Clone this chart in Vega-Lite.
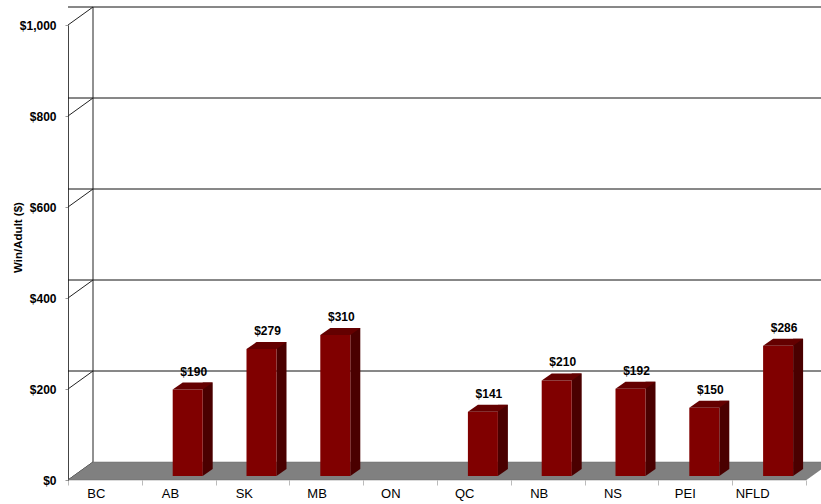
{
  "$schema": "https://vega.github.io/schema/vega-lite/v6.json",
  "width": 738,
  "height": 455,
  "autosize": {"type": "none"},
  "padding": {"left": 68, "top": 25, "right": 15, "bottom": 24},
  "background": "white",
  "config": {
    "view": {"stroke": null},
    "font": "Liberation Sans",
    "axisY": {"grid": false},
    "axisX": {"grid": false}
  },
  "datasets": {
    "prov": [
      {"prov": "BC", "value": null},
      {"prov": "AB", "value": 190},
      {"prov": "SK", "value": 279},
      {"prov": "MB", "value": 310},
      {"prov": "ON", "value": null},
      {"prov": "QC", "value": 141},
      {"prov": "NB", "value": 210},
      {"prov": "NS", "value": 192},
      {"prov": "PEI", "value": 150},
      {"prov": "NFLD", "value": 286}
    ],
    "grid": [{"v": 0}, {"v": 200}, {"v": 400}, {"v": 600}, {"v": 800}, {"v": 1000}],
    "one": [{"k": 1}]
  },
  "layer": [
    {
      "data": {"name": "grid"},
      "transform": [{"filter": "datum.v > 0"}],
      "mark": {"type": "rule", "xOffset": 25, "yOffset": -18, "color": "#111", "strokeWidth": 1},
      "encoding": {
        "y": {
          "field": "v", "type": "quantitative",
          "scale": {"domain": [0, 1000], "nice": false},
          "axis": {
            "title": "Win/Adult ($)", "format": "$,.0f", "values": [0, 200, 400, 600, 800, 1000],
            "grid": false, "ticks": true, "tickSize": 3, "tickColor": "#999",
            "domainColor": "#444", "labelFontSize": 12, "labelFontWeight": "bold", "labelColor": "#000",
            "labelPadding": 9, "titleFontSize": 11.5, "titleFontWeight": "bold", "titleColor": "#000",
            "titleX": -50, "titleY": 212, "titleBaseline": "middle", "titleAngle": 270, "titleAlign": "center"
          }
        }
      }
    },
    {
      "data": {"name": "grid"},
      "mark": {"type": "rule", "x2Offset": 25, "y2Offset": -18, "color": "#222", "strokeWidth": 1},
      "encoding": {
        "x": {"datum": "BC", "type": "nominal", "bandPosition": 0},
        "x2": {"datum": "BC", "bandPosition": 0},
        "y": {"field": "v", "type": "quantitative"},
        "y2": {"field": "v"}
      }
    },
    {
      "data": {"name": "one"},
      "mark": {"type": "rule", "xOffset": 25, "yOffset": -18, "y2Offset": -18, "color": "#222", "strokeWidth": 1},
      "encoding": {
        "x": {"datum": "BC", "type": "nominal", "bandPosition": 0},
        "y": {"datum": 0, "type": "quantitative"},
        "y2": {"datum": 1000}
      }
    },
    {
      "data": {"name": "one"},
      "mark": {"type": "point", "shape": "M 0 0 L 738 0 L 763 -18 L 25 -18 Z", "size": 4, "filled": true, "opacity": 1, "fill": "#808080", "stroke": "#6a6a6a", "strokeWidth": 0.5},
      "encoding": {
        "x": {"datum": "BC", "type": "nominal", "bandPosition": 0},
        "y": {"datum": 0, "type": "quantitative"}
      }
    },
    {
      "data": {"name": "prov"},
      "transform": [{"filter": "isValid(datum.value)"}],
      "mark": {"type": "bar", "width": 10, "xOffset": 29, "yOffset": -11, "y2Offset": -11, "color": "#4a0000"},
      "encoding": {
        "x": {"field": "prov", "type": "nominal", "sort": null},
        "y": {"field": "value", "type": "quantitative"},
        "y2": {"datum": 0}
      }
    },
    {
      "data": {"name": "prov"},
      "transform": [{"filter": "isValid(datum.value)"}],
      "mark": {"type": "point", "shape": "M 24 -4 L 34 -11 L 24 -11 Z", "size": 4, "filled": true, "opacity": 1, "fill": "#4a0000", "strokeWidth": 0},
      "encoding": {
        "x": {"field": "prov", "type": "nominal", "sort": null},
        "y": {"datum": 0, "type": "quantitative"}
      }
    },
    {
      "data": {"name": "prov"},
      "transform": [{"filter": "isValid(datum.value)"}],
      "mark": {"type": "bar", "width": 30, "xOffset": 9, "yOffset": -4, "y2Offset": -4, "color": "#800000"},
      "encoding": {
        "x": {
          "field": "prov", "type": "nominal", "sort": null,
          "scale": {"domain": ["BC", "AB", "SK", "MB", "ON", "QC", "NB", "NS", "PEI", "NFLD"], "paddingInner": 0, "paddingOuter": 0},
          "axis": {
            "title": null, "labelAngle": 0, "labelFontSize": 13, "labelColor": "#000", "labelPadding": 8,
            "domain": false, "ticks": true, "tickBand": "extent", "tickSize": 5, "tickColor": "#bbb"
          }
        },
        "y": {"field": "value", "type": "quantitative"},
        "y2": {"datum": 0}
      }
    },
    {
      "data": {"name": "prov"},
      "transform": [{"filter": "isValid(datum.value)"}],
      "mark": {"type": "point", "shape": "M -6 -4 L 24 -4 L 34 -11 L 4 -11 Z", "size": 4, "filled": true, "opacity": 1, "fill": "#640000", "strokeWidth": 0},
      "encoding": {
        "x": {"field": "prov", "type": "nominal", "sort": null},
        "y": {"field": "value", "type": "quantitative"}
      }
    },
    {
      "data": {"name": "prov"},
      "transform": [{"filter": "isValid(datum.value)"}],
      "mark": {"type": "text", "xOffset": 15, "yOffset": -18, "baseline": "alphabetic", "align": "center", "fontSize": 12, "fontWeight": "bold", "color": "#000"},
      "encoding": {
        "x": {"field": "prov", "type": "nominal", "sort": null},
        "y": {"field": "value", "type": "quantitative"},
        "text": {"field": "value", "type": "quantitative", "format": "$,.0f"}
      }
    }
  ]
}
